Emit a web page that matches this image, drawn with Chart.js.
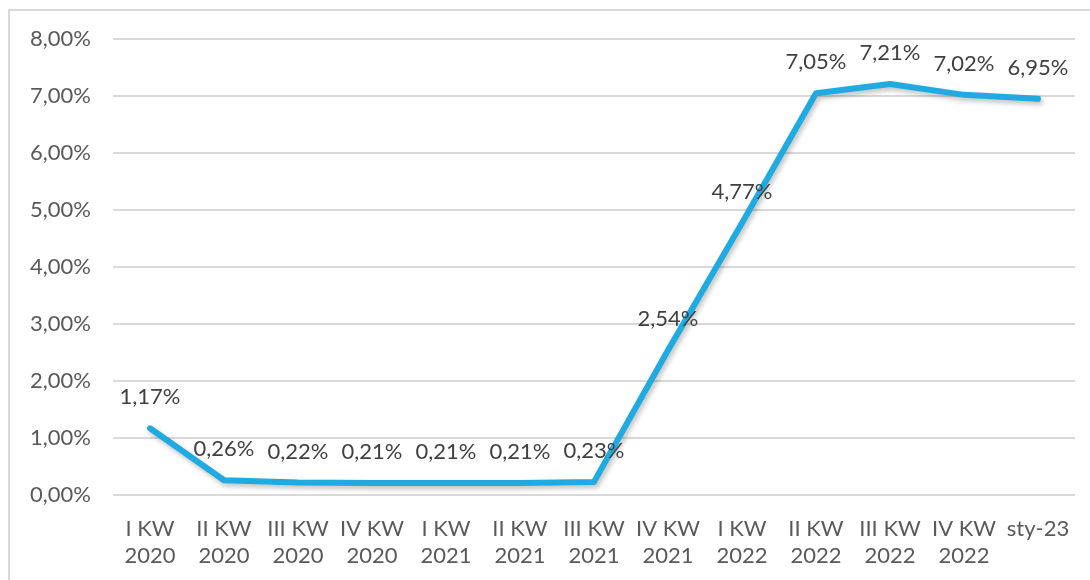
<!DOCTYPE html>
<html>
<head>
<meta charset="utf-8">
<script src="https://cdn.jsdelivr.net/npm/chart.js@4"></script>
<style>
  html, body { margin: 0; padding: 0; background: #fff; }
  #wrap { position: relative; width: 1090px; height: 580px; overflow: hidden; }
  #frame { position: absolute; left: 8px; top: 9px; width: 1100px; height: 600px; border: 2px solid #d9d9d9; box-sizing: border-box; }
  canvas { position: absolute; left: 0; top: 0; }
</style>
</head>
<body>
<div id="wrap">
  <div id="frame"></div>
  <canvas id="rateChart" width="1090" height="580"></canvas>
</div>
<script>
// Kategorie (kwartały)
const categories = [
  ['I KW', '2020'], ['II KW', '2020'], ['III KW', '2020'], ['IV KW', '2020'],
  ['I KW', '2021'], ['II KW', '2021'], ['III KW', '2021'], ['IV KW', '2021'],
  ['I KW', '2022'], ['II KW', '2022'], ['III KW', '2022'], ['IV KW', '2022'],
  'sty-23'
];
// Wartości w %
const rates = [1.17, 0.26, 0.22, 0.21, 0.21, 0.21, 0.23, 2.54, 4.77, 7.05, 7.21, 7.02, 6.95];
// Zakres osi Y
const yTicks = [0, 1, 2, 3, 4, 5, 6, 7, 8];

const fontFamily = 'Lato, "Open Sans", sans-serif';
const pct = v => v.toFixed(2).replace('.', ',') + '%';

// etykiety danych nad punktami
const valueLabels = {
  id: 'valueLabels',
  afterDatasetsDraw(chart) {
    const ctx = chart.ctx;
    const meta = chart.getDatasetMeta(0);
    ctx.save();
    ctx.font = '22px ' + fontFamily;
    ctx.fillStyle = '#404040';
    ctx.textAlign = 'center';
    ctx.textBaseline = 'middle';
    meta.data.forEach((pt, i) => {
      ctx.fillText(pct(rates[i]), pt.x, pt.y - 31);
    });
    ctx.restore();
  }
};

// lekki cień pod linią
const lineShadow = {
  id: 'lineShadow',
  beforeDatasetDraw(chart) {
    const ctx = chart.ctx;
    ctx.save();
    ctx.shadowColor = 'rgba(0,0,0,0.25)';
    ctx.shadowBlur = 5;
    ctx.shadowOffsetX = 2;
    ctx.shadowOffsetY = 3;
  },
  afterDatasetDraw(chart) {
    chart.ctx.restore();
  }
};

const ctx = document.getElementById('rateChart').getContext('2d');
new Chart(ctx, {
  type: 'line',
  data: {
    labels: categories,
    datasets: [{
      data: rates,
      borderColor: '#1fabe2',
      borderWidth: 6,
      tension: 0,
      pointRadius: 0,
      borderCapStyle: 'round',
      borderJoinStyle: 'round',
      fill: false
    }]
  },
  options: {
    responsive: false,
    animation: false,
    layout: { padding: { top: 39, right: 15, bottom: 0, left: 0 } },
    plugins: {
      legend: { display: false },
      tooltip: { enabled: false }
    },
    scales: {
      x: {
        offset: true,
        grid: { display: false },
        border: { display: false },
        ticks: {
          color: '#595959',
          font: { family: fontFamily, size: 22, lineHeight: 1.25 },
          padding: 12,
          maxRotation: 0,
          autoSkip: false
        },
        afterFit(scale) { scale.height = 85; }
      },
      y: {
        min: 0,
        max: 8,
        afterBuildTicks(scale) { scale.ticks = yTicks.map(v => ({ value: v })); },
        grid: { color: '#d9d9d9', lineWidth: 2, drawTicks: false },
        border: { display: false },
        ticks: {
          color: '#595959',
          font: { family: fontFamily, size: 22 },
          padding: 22,
          callback: v => pct(v)
        },
        afterFit(scale) { scale.width = 113; }
      }
    }
  },
  plugins: [lineShadow, valueLabels]
});
</script>
</body>
</html>
